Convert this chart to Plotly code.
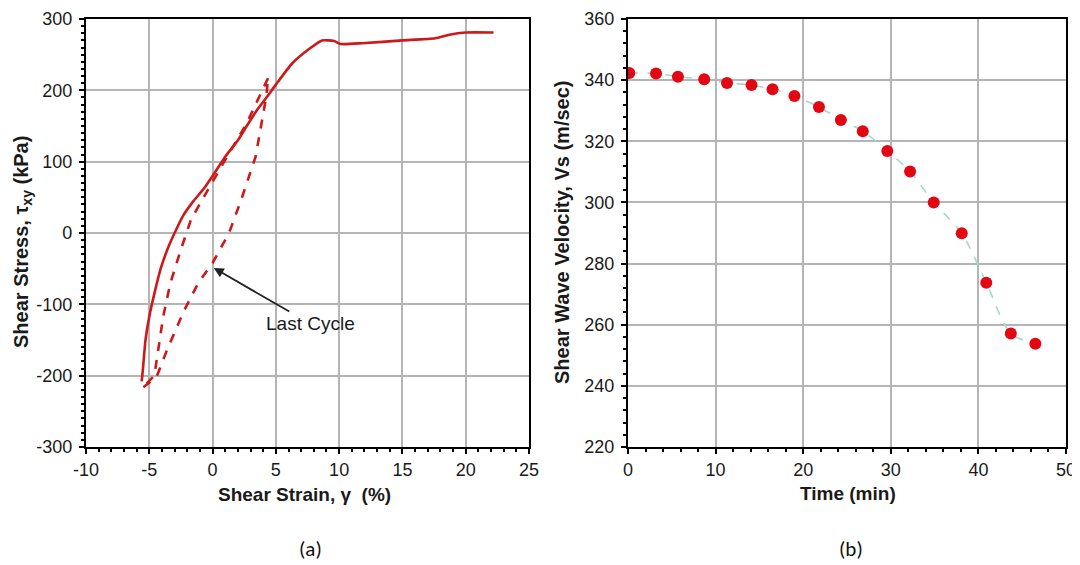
import plotly.graph_objects as go

# ---- Panel (a): shear stress vs shear strain ----
mono_strain = [-5.6, -5.5, -5.3, -5.0, -4.6, -4.1, -3.5, -3.0, -2.3, -1.5, -0.7, 0.0, 1.0, 2.0, 2.7,
               3.5, 4.35, 5.0, 6.3, 7.7, 8.65, 9.6, 10.1, 11.8, 15.0, 17.6, 18.7, 20.0, 22.2]
mono_stress = [-208, -190, -150, -117, -85, -50, -20, 0, 25, 45, 62, 80, 107, 130, 150,
               172, 192, 208, 238, 259, 270, 269, 265, 266, 270, 273, 278, 281, 281]

cyc_strain = [4.38, 2.7, 0.0, -1.7, -2.5, -3.33, -3.9, -4.3, -4.6, -5.6, -4.43, -3.6, -2.23, -1.13,
              0.0, 1.3, 2.27, 3.4, 4.0, 4.25, 4.38]
cyc_stress = [217, 154, 72, 19, -23, -70, -117, -163, -200, -218, -202, -164, -108, -70,
              -42, 0, 47, 107, 164, 192, 217]

# ---- Panel (b): shear wave velocity vs time ----
time_min = [0.15, 3.2, 5.7, 8.7, 11.3, 14.1, 16.5, 19.0, 21.8, 24.3, 26.8, 29.6, 32.2, 34.9,
            38.1, 40.9, 43.7, 46.5]
vs = [342.3, 342.2, 341.1, 340.3, 339.1, 338.4, 337.0, 334.8, 331.2, 327.0, 323.3, 316.8,
      310.1, 300.0, 289.9, 273.7, 257.1, 253.8]

a_xticks = [-10, -5, 0, 5, 10, 15, 20, 25]
a_yticks = [-300, -200, -100, 0, 100, 200, 300]
b_xticks = [0, 10, 20, 30, 40, 50]
b_yticks = [220, 240, 260, 280, 300, 320, 340, 360]

RED = "#cc1a1a"
FONT = "Liberation Sans, Arial, sans-serif"
TXT = "#1a1a1a"
W, H, OFF = 1080, 565, 8  # page body margin offset


def px(x):
    return (x - OFF) / W


def py(y):
    return 1 - (y - OFF) / H


def lab(v):
    return str(v).replace("\u2212", "-")


fig = go.Figure()
fig.add_trace(go.Scatter(x=mono_strain, y=mono_stress, mode="lines",
                         line=dict(color=RED, width=2.6, shape="spline", smoothing=0.5),
                         xaxis="x", yaxis="y", showlegend=False))
fig.add_trace(go.Scatter(x=cyc_strain, y=cyc_stress, mode="lines",
                         line=dict(color=RED, width=2.6, dash="dash"),
                         xaxis="x", yaxis="y", showlegend=False))
fig.add_trace(go.Scatter(x=time_min, y=vs, mode="lines",
                         line=dict(color="#a6d9c6", width=1.6, dash="dash", shape="spline", smoothing=0.8),
                         xaxis="x2", yaxis="y2", showlegend=False))
fig.add_trace(go.Scatter(x=time_min, y=vs, mode="markers",
                         marker=dict(color="#e30613", size=12),
                         xaxis="x2", yaxis="y2", showlegend=False))

axis_common = dict(showline=True, linecolor="black", linewidth=2.2, mirror=True,
                   showgrid=True, gridcolor="#b5b5b5", gridwidth=1.6, zeroline=False,
                   ticks="outside", ticklen=5, tickwidth=2, tickcolor="black", automargin=False,
                   tickfont=dict(family=FONT, size=18, color=TXT))
minor_common = dict(ticks="outside", ticklen=3, tickcolor="black", tickwidth=1.5, showgrid=False)

fig.update_layout(
    width=W, height=H,
    paper_bgcolor="white", plot_bgcolor="white",
    margin=dict(l=0, r=0, t=0, b=0),
    xaxis=dict(domain=[px(86), px(529)], range=[-10, 25], tickvals=a_xticks,
               ticktext=[lab(v) for v in a_xticks], minor=dict(dtick=1, **minor_common),
               anchor="y", **axis_common),
    yaxis=dict(domain=[py(447), py(19)], range=[-300, 300], tickvals=a_yticks,
               ticktext=[lab(v) for v in a_yticks], minor=dict(dtick=10, **minor_common),
               anchor="x", ticklabelstandoff=3, **axis_common),
    xaxis2=dict(domain=[px(628), px(1066)], range=[0, 50], tickvals=b_xticks,
                ticktext=[lab(v) for v in b_xticks], minor=dict(dtick=2, **minor_common),
                anchor="y2", **axis_common),
    yaxis2=dict(domain=[py(447), py(19)], range=[220, 360], tickvals=b_yticks,
                ticktext=[lab(v) for v in b_yticks], minor=dict(dtick=4, **minor_common),
                anchor="x2", ticklabelstandoff=3, **axis_common),
)

title_font = dict(family=FONT, size=19, color=TXT)
ytitle_font = dict(family=FONT, size=20, color=TXT)
common_ann = dict(xref="paper", yref="paper", showarrow=False, xanchor="center", yanchor="middle")
fig.add_annotation(x=px(304), y=py(494), text="<b>Shear Strain, γ  (%)</b>", font=title_font, **common_ann)
fig.add_annotation(x=px(848), y=py(493), text="<b>Time (min)</b>", font=title_font, **common_ann)
fig.add_annotation(x=px(22), y=py(242), textangle=-90,
                   text="<b>Shear Stress, τ<sub>xy</sub> (kPa)</b>", font=ytitle_font, **common_ann)
fig.add_annotation(x=px(562), y=py(233), textangle=-90,
                   text="<b>Shear Wave Velocity, Vs (m/sec)</b>", font=ytitle_font, **common_ann)

fig.add_annotation(x=0.1, y=-49, xref="x", yref="y", ax=7.7, ay=-127, axref="x", ayref="y",
                   text="Last Cycle", showarrow=True, arrowhead=2, arrowsize=1.1, arrowwidth=1.8,
                   arrowcolor="#222", font=dict(family=FONT, size=19, color=TXT))
cap_font = dict(family="Carlito, Calibri, Liberation Sans, sans-serif", size=21, color="#111")
fig.add_annotation(x=px(310), y=py(549), text="(a)", font=cap_font, **common_ann)
fig.add_annotation(x=px(851), y=py(549), text="(b)", font=cap_font, **common_ann)

fig.write_html("out.html")
